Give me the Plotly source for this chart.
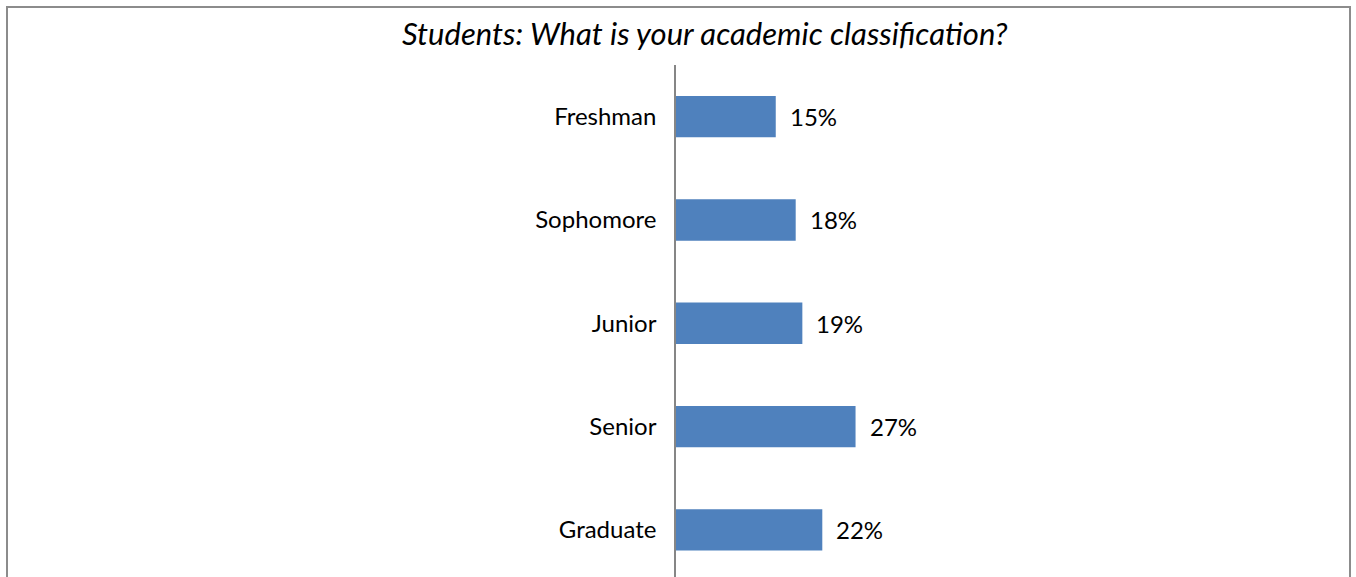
import plotly.graph_objects as go

categories = ["Freshman", "Sophomore", "Junior", "Senior", "Graduate"]
values = [0.15, 0.18, 0.19, 0.27, 0.22]
labels = ["15%", "18%", "19%", "27%", "22%"]
title = "Students: What is your academic classification?"

FONT = "Lato"

fig = go.Figure()
fig.add_trace(go.Bar(
    x=values, y=categories, orientation="h",
    marker=dict(color="#4F81BD", line=dict(width=0)),
    width=0.4, hoverinfo="skip",
))

for c, v, t in zip(categories, values, labels):
    fig.add_annotation(x=v, y=c, xref="x", yref="y", text=t, showarrow=False,
                       xanchor="left", xshift=12,
                       font=dict(family=FONT, size=24, color="#000000"))

fig.add_annotation(text=title, xref="paper", yref="paper", x=(704.5 - 676) / 665, y=1 + 32 / 512,
                   xanchor="center", yanchor="middle", showarrow=False,
                   font=dict(family=FONT, size=31, color="#000000", style="italic"))

fig.add_shape(type="rect", xref="paper", yref="paper",
              x0=(7 - 676) / 665, x1=(1350 - 676) / 665,
              y0=-0.2, y1=1 + 58 / 512,
              line=dict(color="#8C8C8C", width=2), fillcolor="rgba(0,0,0,0)")

fig.update_layout(
    width=1356, height=577,
    margin=dict(l=676, r=15, t=65, b=0, pad=0),
    paper_bgcolor="white", plot_bgcolor="white",
    showlegend=False, bargap=0.6,
    xaxis=dict(range=[0, 1], visible=False, fixedrange=True),
    yaxis=dict(type="category", categoryorder="array", categoryarray=categories,
               range=[4.456, -0.5], showline=True, linecolor="#868686", linewidth=1.5,
               showgrid=False, zeroline=False, ticks="", ticklabelstandoff=13,
               tickfont=dict(family=FONT, size=24, color="#000000"), fixedrange=True),
)

fig.write_html("out.html", config={"displayModeBar": False},
               post_script="document.body.style.margin='0';document.body.style.overflow='hidden';")
